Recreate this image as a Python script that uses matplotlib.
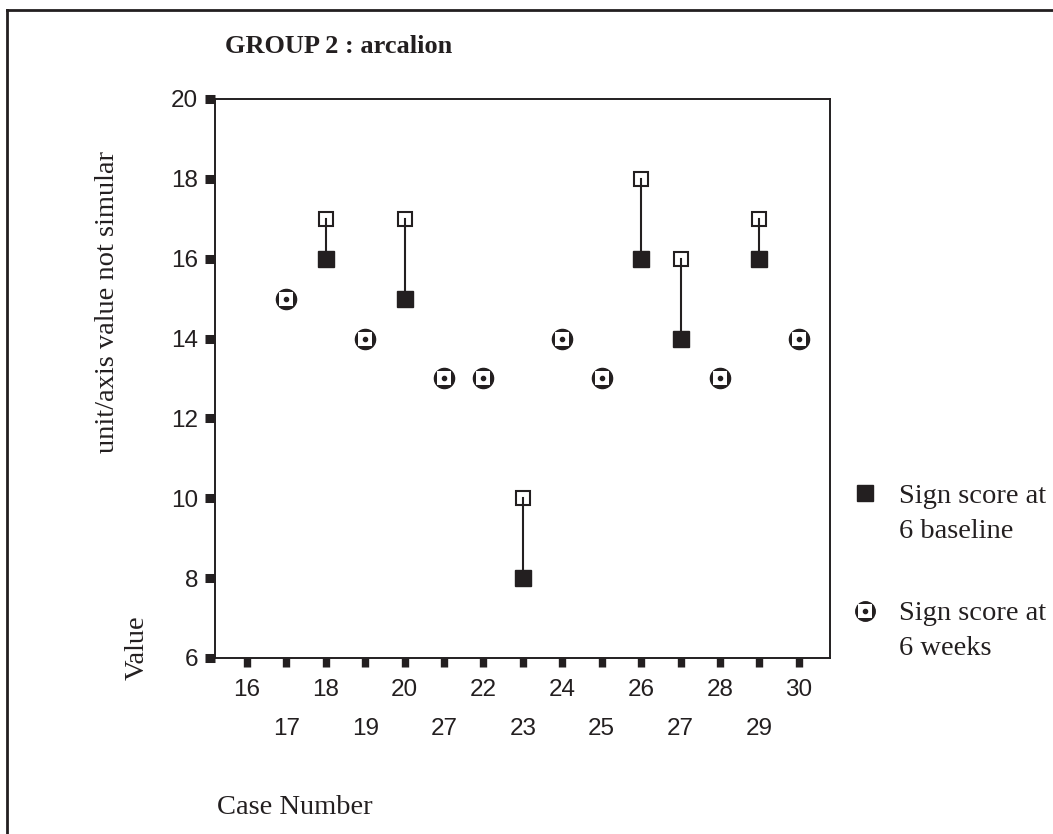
import numpy as np
from matplotlib import pyplot as plt
from matplotlib.lines import Line2D

# номера случаев (подписи оси X, как на исходной картинке)
case_labels = ['16', '17', '18', '19', '20', '27', '22', '23',
               '24', '25', '26', '27', '28', '29', '30']
# значения на исходном уровне и через 6 недель
baseline = [np.nan, 15, 16, 14, 15, 13, 13, 8, 14, 13, 16, 14, 13, 16, 14]
weeks_6 = [np.nan, 15, 17, 14, 17, 13, 13, 10, 14, 13, 18, 16, 13, 17, 14]
y_ticks = [6, 8, 10, 12, 14, 16, 18, 20]

ink = '#231f20'
W, H = 1053, 834

plt.rcParams['font.family'] = ['Liberation Sans', 'DejaVu Sans']
fig = plt.figure(figsize=(W/100, H/100), dpi=100)
ax = fig.add_axes([215/W, 1 - 658/H, 615/W, 559/H])

pos = np.arange(1, len(case_labels)+1)
base = np.array(baseline, dtype=float)
wk = np.array(weeks_6, dtype=float)
same = base == wk
diff = (base != wk) & ~np.isnan(base)

# линии между значениями
for x, b, w in zip(pos[diff], base[diff], wk[diff]):
    ax.plot([x, x], [b, w], color=ink, lw=1.5, zorder=4)
# открытые квадраты (6 недель)
ax.plot(pos[diff], wk[diff], 's', ms=10.5, mfc='none', mec=ink, mew=1.5,
        zorder=3)
# закрашенные квадраты (исходный уровень)
ax.plot(pos[diff], base[diff], 's', ms=11, color=ink, zorder=5)
# круги с точкой
ax.plot(pos[same], base[same], 'o', ms=14.5, color=ink, zorder=5)
ax.plot(pos[same], base[same], 's', ms=10, color='white', mew=0, zorder=6)
ax.plot(pos[same], base[same], 'o', ms=3, color=ink, zorder=7)

ax.set_xlim(0.19, 15.79)
ax.set_ylim(6, 20)
ax.set_yticks(y_ticks)
ax.set_yticklabels([str(t) for t in y_ticks])
ax.set_xticks(pos[::2])
ax.set_xticklabels(case_labels[::2])
ax.set_xticks(pos[1::2], minor=True)
ax.set_xticklabels(case_labels[1::2], minor=True)

for s in ax.spines.values():
    s.set_linewidth(1.4)
    s.set_color(ink)
ax.tick_params(axis='y', direction='out', length=7, width=6.5, pad=5,
               labelsize=17.5, color=ink, labelcolor=ink)
ax.tick_params(axis='x', which='both', direction='out', length=6.5,
               width=5.3, labelsize=17.5, color=ink, labelcolor=ink)
ax.tick_params(axis='x', which='major', pad=8.5)
ax.tick_params(axis='x', which='minor', pad=36.5)

serif = ['Liberation Serif', 'DejaVu Serif']
fig.text(225/W, 1 - 53/H, 'GROUP 2 : arcalion', family=serif,
         weight='bold', fontsize=19, ha='left', va='baseline', color=ink)
fig.text(108/W, 1 - 302/H, 'unit/axis value not simular', family=serif,
         fontsize=20.5, rotation=90, ha='center', va='center', color=ink)
fig.text(137/W, 1 - 648/H, 'Value', family=serif, fontsize=20.5,
         rotation=90, ha='center', va='center', color=ink)
fig.text(217/W, 1 - 814/H, 'Case Number', family=serif, fontsize=20.5,
         ha='left', va='baseline', color=ink)

# легенда вручную
lx = 865/W
fig.add_artist(Line2D([lx], [1 - 493/H], marker='s', ms=11, color=ink))
fig.add_artist(Line2D([lx], [1 - 611/H], marker='o', ms=14, color=ink))
fig.add_artist(Line2D([lx], [1 - 611/H], marker='s', ms=9.5, color='white',
                      mew=0))
fig.add_artist(Line2D([lx], [1 - 611/H], marker='o', ms=3, color=ink))
for txt, yy in [('Sign score at', 503), ('6 baseline', 538),
                ('Sign score at', 620), ('6 weeks', 655)]:
    fig.text(899/W, 1 - yy/H, txt, family=serif, fontsize=20.5,
             ha='left', va='baseline', color=ink)

# рамка сверху и слева
fig.add_artist(Line2D([7/W, 7/W], [0, 1 - 10/H], color=ink, lw=2))
fig.add_artist(Line2D([7/W, 1], [1 - 10/H, 1 - 10/H], color=ink, lw=2))

fig.savefig('out.png', dpi=100)
